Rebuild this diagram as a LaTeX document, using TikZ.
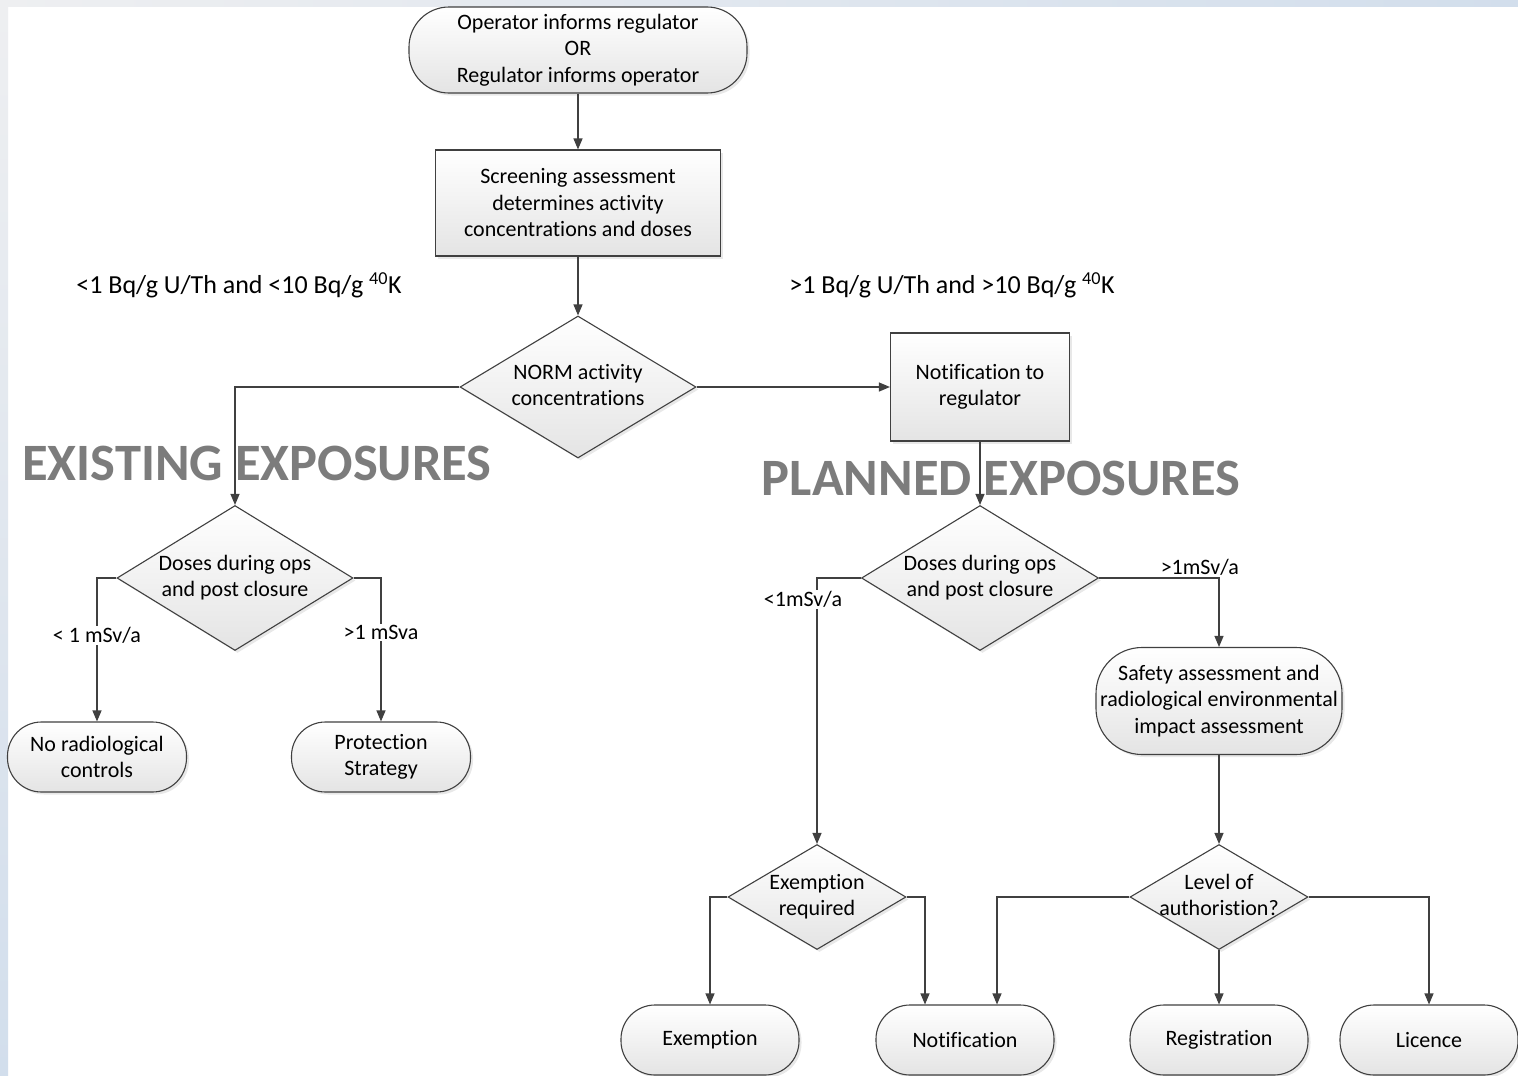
\documentclass[tikz,border=0pt]{standalone}
\usepackage{fontspec}
\setmainfont{Carlito}[Ligatures=NoCommon]
\usetikzlibrary{shapes.geometric,arrows.meta,shadows}
\definecolor{linec}{HTML}{404040}
\definecolor{fillc}{HTML}{E4E4E4}
\definecolor{bigc}{HTML}{7C7C7C}
\definecolor{stripg}{HTML}{EEEFF1}
\definecolor{stripb}{HTML}{D2DEEC}
\newcommand\dtext[1]{\makebox[0pt]{\raisebox{-0.25em}[0pt][0pt]{\begin{tabular}{@{}c@{}}#1\end{tabular}}}}
\begin{document}
\begin{tikzpicture}[x=1pt,y=-1pt,
  base/.style={draw=linec, line width=1.1pt, top color=white, bottom color=fillc,
    drop shadow={opacity=0.18,shadow xshift=2.5pt,shadow yshift=-2.5pt},
    font=\fontsize{22}{26.5}\selectfont, align=center, inner sep=0pt},
  proc/.style={base, rectangle},
  term/.style={base, rectangle, rounded corners=#1},
  term/.default=34pt,
  dia/.style={base, diamond},
  conn/.style={draw=linec, line width=1.1pt, -{Triangle[length=11pt,width=9pt]}},
  elab/.style={font=\fontsize{22}{26}\selectfont, fill=white, inner sep=1.5pt},
  thr/.style={font=\fontsize{26}{30}\selectfont, inner sep=0pt},
  big/.style={font=\fontsize{52.5}{60}\selectfont\bfseries, text=bigc, inner sep=0pt},
]
\useasboundingbox (0,0) rectangle (1518,1076);
\fill[white] (0,0) rectangle (1518,1076);
\shade[left color=stripg, right color=stripb] (0,0) rectangle (1518,6);
\shade[top color=stripg, bottom color=stripb] (0,0) rectangle (8,1076);

% big headings
\node[big] (exist) at (257,463) {EXISTING EXPOSURES};
\node[big] (plan) at (1001,478) {PLANNED EXPOSURES};

% threshold labels
\node[thr] (lowthr) at (239,285) {<1 Bq/g U/Th and <10 Bq/g \textsuperscript{40}K};
\node[thr] (highthr) at (952,285) {>1 Bq/g U/Th and >10 Bq/g \textsuperscript{40}K};

% nodes
\node[term=40pt, minimum width=338pt, minimum height=86pt] (start) at (578,50)
  {Operator informs regulator\\OR\\Regulator informs operator};
\node[proc, minimum width=285pt, minimum height=106pt] (screen) at (578,203)
  {Screening assessment\\determines activity\\concentrations and doses};
\node[dia, minimum width=236pt, minimum height=142pt] (norm) at (578,387)
  {\dtext{NORM activity\\concentrations}};
\node[proc, minimum width=179pt, minimum height=108pt] (notreg) at (980,387)
  {Notification to\\regulator};
\node[dia, minimum width=236pt, minimum height=145pt] (ldia) at (235,578)
  {\dtext{Doses during ops\\and post closure}};
\node[dia, minimum width=237pt, minimum height=145pt] (rdia) at (980,578)
  {\dtext{Doses during ops\\and post closure}};
\node[term, minimum width=179pt, minimum height=70pt] (norad) at (97,757)
  {No radiological\\controls};
\node[term, minimum width=179pt, minimum height=70pt] (prot) at (381,757)
  {Protection\\Strategy};
\node[term=46pt, minimum width=246pt, minimum height=107pt] (safe) at (1219,701)
  {Safety assessment and\\radiological environmental\\impact assessment};
\node[dia, minimum width=178pt, minimum height=105pt] (exreq) at (817,897)
  {\dtext{Exemption\\required}};
\node[dia, minimum width=178pt, minimum height=105pt] (lvl) at (1219,897)
  {\dtext{Level of\\authoristion?}};
\node[term, minimum width=178pt, minimum height=70pt] (exem) at (710,1040) {Exemption};
\node[term, minimum width=178pt, minimum height=70pt] (nfy) at (965,1040) {Notification};
\node[term, minimum width=178pt, minimum height=70pt] (reg) at (1219,1040) {Registration};
\node[term, minimum width=178pt, minimum height=70pt] (lic) at (1429,1040) {Licence};

% connectors
\draw[conn] (start.south) -- (screen.north);
\draw[conn] (screen.south) -- (norm.north);
\draw[conn] (norm.west) -| (ldia.north);
\draw[conn] (norm.east) -- (notreg.west);
\draw[conn] (notreg.south) -- (rdia.north);
\draw[conn] (ldia.west) -| node[elab, pos=0.70] {< 1 mSv/a} (norad.north);
\draw[conn] (ldia.east) -| node[elab, pos=0.69] {>1 mSva} (prot.north);
\draw[conn] (rdia.west) -| node[elab, pos=0.54, xshift=-14pt] {<1mSv/a} (exreq.north);
\draw[conn] (rdia.east) -| node[elab, fill=none, pos=0.42, above=1pt] {>1mSv/a} (safe.north);
\draw[conn] (safe.south) -- (lvl.north);
\draw[conn] (exreq.west) -| (exem.north);
\draw[conn] (exreq.east) -| ([xshift=-40pt]nfy.north);
\draw[conn] (lvl.west) -| ([xshift=32pt]nfy.north);
\draw[conn] (lvl.south) -- (reg.north);
\draw[conn] (lvl.east) -| (lic.north);
\end{tikzpicture}
\end{document}
